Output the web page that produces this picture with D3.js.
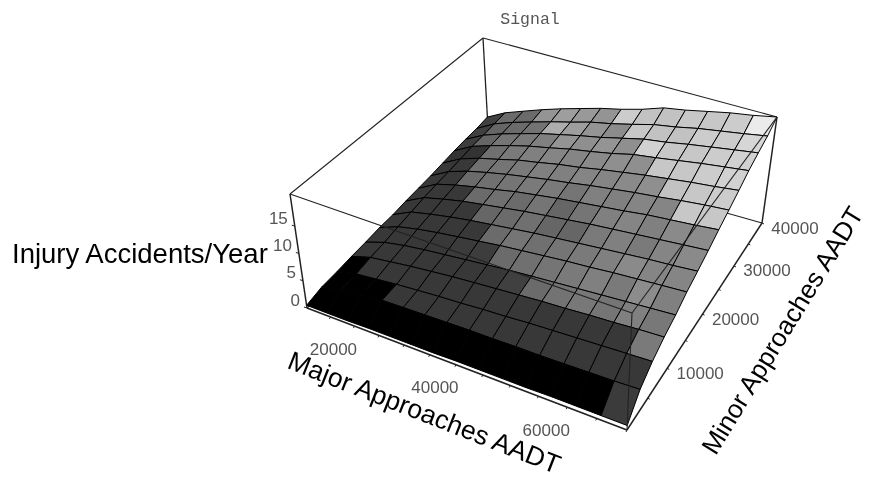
<!DOCTYPE html>
<html>
<head>
<meta charset="utf-8">
<script src="https://cdn.jsdelivr.net/npm/d3@7"></script>
<style>
  html, body { margin: 0; background: #fff; }
  svg { display: block; filter: blur(0.4px); }
</style>
</head>
<body>
<div id="chart"></div>
<script>
const majorGrid = [10000,14286,18571,22857,27143,31429,35714,40000,44286,48571,52857,57143,61429,65714,70000];
const minorGrid = [0,2857,5714,8571,11429,14286,17143,20000,22857,25714,28571,31429,34286,37143,40000];

// injury accidents per year, one row per minor value (front to back)
const injuries = [
  [0.5,0.5,0.5,0.6,0.6,0.6,0.6,0.7,0.7,0.7,0.7,0.8,0.8,0.8,0.8],
  [1.3,2.2,2.6,3.0,3.1,3.2,3.3,3.4,3.4,3.5,3.5,3.6,3.7,3.8,4.0],
  [1.6,2.5,2.9,3.3,3.6,3.9,4.1,4.4,4.6,4.9,5.1,5.3,5.5,5.7,5.9],
  [2.0,3.1,3.6,4.1,4.5,4.9,5.2,5.5,5.8,6.1,6.3,6.6,6.8,7.1,7.3],
  [2.3,3.5,4.2,4.7,5.1,5.5,5.9,6.3,6.6,6.9,7.2,7.5,7.8,8.1,8.4],
  [2.7,4.1,4.9,5.5,6.0,6.5,7.0,7.4,7.8,8.2,8.5,8.9,9.2,9.5,9.8],
  [2.9,4.6,5.4,6.1,6.7,7.2,7.7,8.2,8.6,9.0,9.4,9.8,10.2,10.5,10.9],
  [3.3,5.1,6.0,6.8,7.4,8.0,8.6,9.1,9.6,10.1,10.5,10.9,11.3,11.7,12.1],
  [3.6,5.5,6.5,7.3,8.0,8.8,9.4,10.0,10.5,11.0,11.5,12.1,12.5,12.9,13.4],
  [3.9,5.8,7.0,7.9,8.7,9.4,10.1,10.7,11.4,12.0,12.6,13.1,13.7,14.2,14.6],
  [4.3,6.2,7.4,8.3,9.3,10.0,10.8,11.4,12.2,12.9,13.6,14.2,14.8,15.3,15.9],
  [4.7,6.6,7.8,8.9,9.9,10.7,11.6,12.3,13.1,14.1,14.7,15.4,16.1,16.7,17.3],
  [5.0,6.8,8.1,9.2,10.3,11.2,12.1,12.9,13.9,14.9,15.5,16.3,17.0,17.7,18.4],
  [5.2,7.1,8.4,9.5,10.6,11.6,12.7,13.5,14.5,15.6,16.3,17.2,17.9,18.6,19.4],
  [5.6,7.4,8.7,10.0,11.2,12.3,13.4,14.3,15.4,16.8,17.5,18.4,19.3,20.0,20.9]
];

// brightness of each facet, percent, same order
const brightness = [
  [0,0,0,0,0,0,0,0,0,0,0,0,0,23],
  [0,0,0,22,22,22,22,22,22,22,22,22,22,22],
  [0,22,22,22,22,22,22,22,22,22,22,22,22,48],
  [22,22,22,22,22,22,22,25,42,45,47,46,50,47],
  [22,22,22,22,23,24,42,44,46,48,50,48,55,50],
  [22,22,22,22,22,42,46,44,46,48,50,54,52,52],
  [22,22,22,22,40,42,44,40,40,48,50,48,52,54],
  [22,22,22,42,44,42,46,40,46,50,52,50,54,55],
  [22,22,42,44,46,48,48,46,50,50,52,52,78,78],
  [22,22,44,46,48,50,50,52,52,54,56,76,78,80],
  [20,20,44,48,50,52,52,54,56,56,78,78,80,82],
  [24,40,46,48,50,58,56,58,56,82,78,78,80,82],
  [25,40,42,45,68,62,58,55,78,76,76,80,80,84],
  [25,42,42,58,62,60,58,80,76,76,78,78,80,92]
];

const majorTicks = [20000, 40000, 60000];
const majorMinorTicks = [15000,20000,25000,30000,35000,40000,45000,50000,55000,60000,65000,70000];
const minorTicks = [10000, 20000, 30000, 40000];
const minorMinorTicks = [5000,10000,15000,20000,25000,30000,35000,40000];
const zTicks = [0, 5, 10, 15];

const width = 869, height = 481;

const svg = d3.select('#chart').append('svg')
  .attr('width', width)
  .attr('height', height);

const u = d3.scaleLinear().domain([10000, 70000]).range([0, 1]);
const v = d3.scaleLinear().domain([0, 40000]).range([0, 1]);
const zs = d3.scaleLinear().domain([0, 20.9]).range([0, 1]);
const shade = d3.scaleLinear().domain([0, 100]).range(['#000', '#fff']);

// unit square -> quad, corners given as [0,0],[1,0],[1,1],[0,1]
function quadMap(q) {
  const [p0, p1, p2, p3] = q;
  const dx1 = p1[0] - p2[0], dx2 = p3[0] - p2[0], sx = p0[0] - p1[0] + p2[0] - p3[0];
  const dy1 = p1[1] - p2[1], dy2 = p3[1] - p2[1], sy = p0[1] - p1[1] + p2[1] - p3[1];
  const det = dx1 * dy2 - dx2 * dy1;
  const g = (sx * dy2 - dx2 * sy) / det;
  const h = (dx1 * sy - sx * dy1) / det;
  const a = p1[0] - p0[0] + g * p1[0], b = p3[0] - p0[0] + h * p3[0];
  const d = p1[1] - p0[1] + g * p1[1], e = p3[1] - p0[1] + h * p3[1];
  return (s, t) => {
    const w = g * s + h * t + 1;
    return [(a * s + b * t + p0[0]) / w, (d * s + e * t + p0[1]) / w];
  };
}

const floorMap = quadMap([[307, 308], [627, 430], [762, 223], [489, 146]]);
const ceilMap  = quadMap([[290, 194], [632, 313], [777, 117], [483, 38]]);

function project(major, minor, inj) {
  const s = u(major), t = v(minor), k = zs(inj);
  const a = floorMap(s, t), b = ceilMap(s, t);
  return [a[0] + (b[0] - a[0]) * k, a[1] + (b[1] - a[1]) * k];
}

const line = d3.line();
const zTop = zs.domain()[1];
const xMin = u.domain()[0], xMax = u.domain()[1];
const yMin = v.domain()[0], yMax = v.domain()[1];

function edge(a, b, w) {
  svg.append('path')
    .attr('d', line([project(...a), project(...b)]))
    .attr('fill', 'none')
    .attr('stroke', '#222')
    .attr('stroke-width', w || 1.1);
}

// back of the box, hidden by the surface
edge([xMin, yMin, zTop], [xMin, yMax, zTop]);
edge([xMin, yMax, zTop], [xMax, yMax, zTop]);
edge([xMin, yMax, 0], [xMin, yMax, zTop], 1.3);
edge([xMax, yMax, 0], [xMax, yMax, zTop], 1.5);
edge([xMin, yMin, 0], [xMin, yMin, zTop], 1.5);
edge([xMin, yMax, 0], [xMax, yMax, 0]);
edge([xMin, yMin, 0], [xMin, yMax, 0]);
edge([xMin, yMin, 0], [xMax, yMin, 0], 1.5);
edge([xMax, yMin, 0], [xMax, yMax, 0], 1.5);

// surface facets, back to front
const cells = [];
for (let j = brightness.length - 1; j >= 0; j--) {
  brightness[j].forEach((b, i) => cells.push({ i, j, b }));
}

svg.append('g').selectAll('path')
  .data(cells)
  .join('path')
  .attr('d', d => line([
    project(majorGrid[d.i], minorGrid[d.j], injuries[d.j][d.i]),
    project(majorGrid[d.i + 1], minorGrid[d.j], injuries[d.j][d.i + 1]),
    project(majorGrid[d.i + 1], minorGrid[d.j + 1], injuries[d.j + 1][d.i + 1]),
    project(majorGrid[d.i], minorGrid[d.j + 1], injuries[d.j + 1][d.i])
  ]) + 'Z')
  .attr('fill', d => shade(d.b))
  .attr('stroke', '#000')
  .attr('stroke-width', 1)
  .attr('stroke-linejoin', 'round');

// front edges of the box go over the surface
edge([xMin, yMin, zTop], [xMax, yMin, zTop]);
edge([xMax, yMin, zTop], [xMax, yMax, zTop]);
edge([xMax, yMin, 0], [xMax, yMin, zTop]);

// ticks
function tickMark(p, dx, dy) {
  svg.append('path')
    .attr('d', line([p, [p[0] + dx, p[1] + dy]]))
    .attr('stroke', '#222')
    .attr('stroke-width', 1);
}
majorMinorTicks.forEach(t => tickMark(project(t, yMin, 0), -1, 2));
minorMinorTicks.forEach(t => tickMark(project(xMax, t, 0), 2, 1));
zTicks.forEach(t => tickMark(project(xMin, yMin, t), -3, -1));

const tickFont = 'Liberation Sans, Arial, sans-serif';

function tickLabels(data, pos, anchor, dx, dy) {
  svg.append('g').selectAll('text')
    .data(data)
    .join('text')
    .attr('x', d => pos(d)[0] + dx)
    .attr('y', d => pos(d)[1] + dy)
    .attr('text-anchor', anchor)
    .attr('dominant-baseline', 'central')
    .attr('font-family', tickFont)
    .attr('font-size', 17)
    .attr('fill', '#555')
    .text(d => d);
}
tickLabels(majorTicks, d => project(d, yMin, 0), 'middle', -21, 23);
tickLabels(minorTicks, d => project(xMax, d, 0), 'middle', 33, 5);
tickLabels(zTicks, d => project(xMin, yMin, d), 'end', -7, -8);

// title and axis labels
svg.append('text')
  .attr('x', 530).attr('y', 24)
  .attr('text-anchor', 'middle')
  .attr('font-family', 'Liberation Mono, monospace')
  .attr('font-size', 16.5)
  .attr('fill', '#555')
  .text('Signal');

svg.append('text')
  .attr('x', 12).attr('y', 263)
  .attr('font-family', tickFont)
  .attr('font-size', 27.5)
  .attr('fill', '#000')
  .text('Injury Accidents/Year');

svg.append('text')
  .attr('transform', 'translate(421,421) rotate(21.5)')
  .attr('text-anchor', 'middle')
  .attr('font-family', tickFont)
  .attr('font-size', 26.5)
  .attr('fill', '#000')
  .text('Major Approaches AADT');

svg.append('text')
  .attr('transform', 'translate(790,335) rotate(-58.5)')
  .attr('text-anchor', 'middle')
  .attr('font-family', tickFont)
  .attr('font-size', 26)
  .attr('fill', '#000')
  .text('Minor Approaches AADT');
</script>
</body>
</html>
